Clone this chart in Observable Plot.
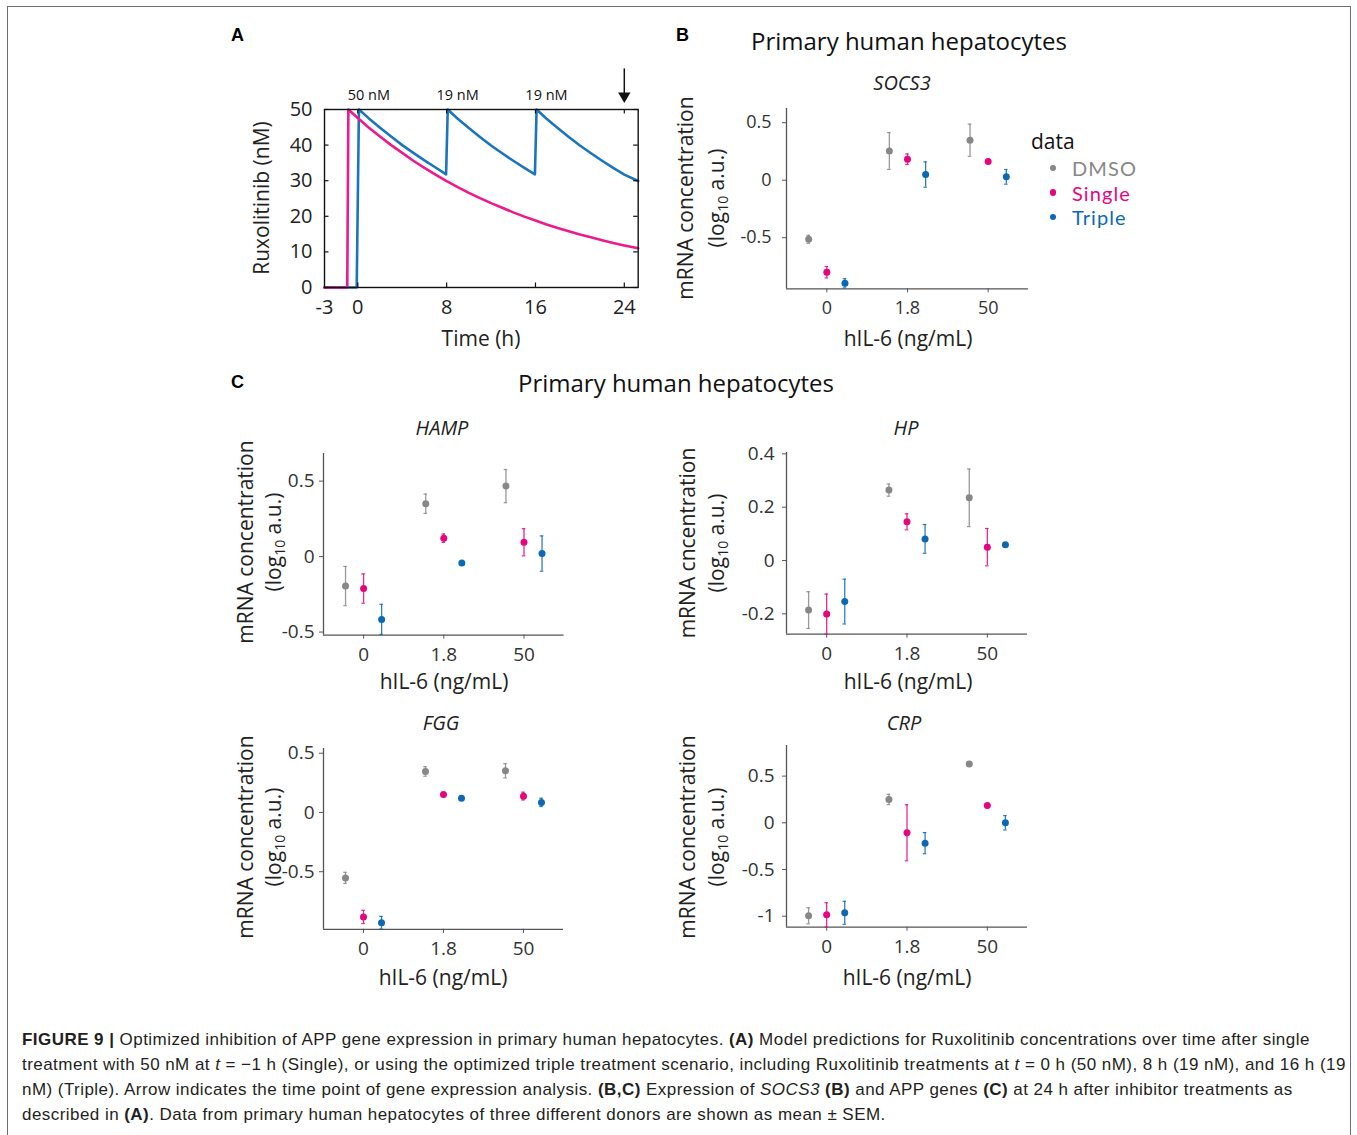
<!DOCTYPE html>
<html><head><meta charset="utf-8">
<script src="https://cdn.jsdelivr.net/npm/d3@7"></script>
<script src="https://cdn.jsdelivr.net/npm/@observablehq/plot@0.6"></script>
<style>
body{margin:0;background:#fff;}
#fig{position:relative;width:1357px;height:1135px;font-family:"Open Sans",sans-serif;overflow:hidden;background:#fff;}
.abs{position:absolute;white-space:nowrap;line-height:1;}
.c{transform:translate(-50%,-50%);}
.rot{transform:translate(-50%,-50%) rotate(-90deg);}
.plot{position:absolute;}
.lbl{font-weight:bold;font-size:18px;font-family:"Liberation Sans",Arial,sans-serif;}
#caption{position:absolute;left:22px;top:1027px;font-family:"Liberation Sans",Arial,sans-serif;font-size:17px;letter-spacing:0.45px;line-height:25px;color:#231f20;white-space:nowrap;}
</style></head>
<body><div id="fig"></div>
<script>
// ---------- Panel A data ----------
const singleTime = [-3,-0.95,-0.85,0,1,2,3,4,5,6,7,8,9,10,11,12,13,14,15,16,17,18,19,20,21,22,23,24,25.25];
const singleConc = [0,0,50,47.6,44.9,42.4,40.0,37.8,35.6,33.6,31.7,29.9,28.2,26.6,25.1,23.7,22.4,21.1,19.9,18.8,17.7,16.7,15.8,14.9,14.1,13.3,12.5,11.8,11.0];
const tripleTime = [-3,-0.1,0.1,1,2,3,4,5,6,7,7.95,8.1,9,10,11,12,13,14,15,15.95,16.1,17,18,19,20,21,22,23,24,25.25];
const tripleConc = [0,0,50,47.5,44.9,42.4,40.0,37.8,35.7,33.7,31.8,50,47.4,44.8,42.3,39.9,37.7,35.6,33.6,31.8,50,47.4,44.8,42.3,39.9,37.7,35.6,33.6,31.7,29.9];
const timeTicks = [-3,0,8,16,24];
const concTicks = [0,10,20,30,40,50];
const doseTimes = [0,8,16];
const doseLabels = ["50 nM","19 nM","19 nM"];
const analysisTime = 24;

// ---------- Panels B, C data (rows: DMSO, Single, Triple; cols: doses) ----------
const doses = ["0","1.8","50"];
const treatments = ["DMSO","Single","Triple"];
const colors = ["#878787","#e5057f","#0b68b5"];

const socs3Mean = [[-0.514,0.254,0.347],[-0.800,0.182,0.162],[-0.896,0.049,0.029]];
const socs3Sem  = [[0.035,0.160,0.140],[0.050,0.046,0.010],[0.040,0.110,0.064]];
const hampMean  = [[-0.195,0.350,0.467],[-0.212,0.122,0.095],[-0.416,-0.042,0.020]];
const hampSem   = [[0.130,0.064,0.110],[0.097,0.028,0.090],[0.100,0.004,0.117]];
const hpMean    = [[-0.186,0.264,0.235],[-0.201,0.145,0.050],[-0.154,0.081,0.059]];
const hpSem     = [[0.069,0.023,0.108],[0.075,0.030,0.070],[0.084,0.054,0.004]];
const fggMean   = [[-0.552,0.346,0.352],[-0.882,0.152,0.138],[-0.930,0.121,0.085]];
const fggSem    = [[0.047,0.040,0.060],[0.056,0.012,0.033],[0.053,0.015,0.035]];
const crpMean   = [[-0.996,0.250,0.629],[-0.986,-0.107,0.186],[-0.964,-0.218,0.000]];
const crpSem    = [[0.086,0.055,0.006],[0.130,0.300,0.006],[0.123,0.113,0.077]];

const fig = document.getElementById("fig");
function addDiv(html, cls, left, top, style = "") {
  const d = document.createElement("div");
  d.className = "abs " + cls;
  d.style.cssText = `left:${left}px;top:${top}px;${style}`;
  d.innerHTML = html;
  fig.appendChild(d);
  return d;
}
function addPlot(svg, left, top) {
  svg.classList.add("plot");
  svg.style.left = left + "px";
  svg.style.top = top + "px";
  fig.appendChild(svg);
}

// border
addDiv("", "", 7, 6, "width:1344px;height:1200px;border:1.6px solid #6e6e6e;box-sizing:border-box;");

// ---------- Panel A ----------
{
  const L = 324, R = 637.7, T = 109.3, B = 287.3;
  const mL = 104, mR = 22, mT = 59, mB = 73;
  const W = (R - L) + mL + mR, H = (B - T) + mT + mB;
  const pw = R - L, ph = B - T;
  const single = singleTime.map((t, i) => ({t, c: singleConc[i]}));
  const triple = tripleTime.map((t, i) => ({t, c: tripleConc[i]}));
  const svg = Plot.plot({
    width: W, height: H, marginLeft: mL, marginRight: mR, marginTop: mT, marginBottom: mB,
    x: {domain: [-3, 25.25]}, y: {domain: [0, 50]},
    style: {fontFamily: "Open Sans", fontSize: "20px", color: "#222", background: "transparent", overflow: "visible"},
    marks: [
      Plot.line(triple, {x: "t", y: "c", stroke: "#1b75bc", strokeWidth: 2.6}),
      Plot.line(single, {x: "t", y: "c", stroke: "#ec1a8a", strokeWidth: 2.6}),
      Plot.frame({stroke: "#111", strokeWidth: 1.4}),
      Plot.ruleX(timeTicks.slice(1), {insetTop: ph - 4.5, stroke: "#111", strokeWidth: 1.2}),
      Plot.ruleX(timeTicks.slice(1), {insetBottom: ph - 4.5, stroke: "#111", strokeWidth: 1.2}),
      Plot.ruleY(concTicks, {insetRight: pw - 4.5, stroke: "#111", strokeWidth: 1.2}),
      Plot.ruleY(concTicks, {insetLeft: pw - 4.5, stroke: "#111", strokeWidth: 1.2}),
      Plot.axisX({ticks: timeTicks, tickSize: 0, tickPadding: 12, label: null, tickFormat: d => String(d), fontSize: 20}),
      Plot.axisY({ticks: concTicks, tickSize: 0, tickPadding: 12, label: null, tickFormat: d => String(d), fontSize: 20}),
      Plot.text(doseTimes.map((t, i) => ({t, s: doseLabels[i]})), {x: d => d.t, y: 50, text: "s", dx: 11, dy: -14, fontSize: 14.5, fill: "#111"}),
      Plot.ruleX([analysisTime], {y1: 61.4, y2: 54.5, stroke: "#111", strokeWidth: 1.5}),
      Plot.dot([analysisTime], {x: d => d, y: 53.8, symbol: "triangle", rotate: 180, r: 4.6, fill: "#111", stroke: "none"})
    ]
  });
  addPlot(svg, L - mL, T - mT);
  addDiv("Ruxolitinib (nM)", "rot", 261, 198, "font-size:21px;color:#222;");
  addDiv("Time (h)", "c", 481, 338, "font-size:21px;color:#222;");
}

// ---------- Scatter panels ----------
const dodge = [-0.225, 0, 0.225];
function scatter({mean, sem, yDomain, yTicks, L, R, T, B, tickPad = 8, tickFont = 18}) {
  const rows = [];
  treatments.forEach((t, i) => doses.forEach((d, j) => rows.push({t, x: j + 1 + dodge[i], y: mean[i][j], e: sem[i][j]})));
  const mL = 80, mR = 6, mT = 6, mB = 50;
  const W = (R - L) + mL + mR, H = (B - T) + mT + mB;
  const capW = 0.022;
  const svg = Plot.plot({
    width: W, height: H, marginLeft: mL, marginRight: mR, marginTop: mT, marginBottom: mB,
    x: {domain: [0.5, 3.5]}, y: {domain: yDomain},
    color: {domain: treatments, range: colors},
    style: {fontFamily: "Open Sans", fontSize: tickFont + "px", color: "#333", background: "transparent", overflow: "visible"},
    marks: [
      Plot.ruleX([0.5], {stroke: "#555", strokeWidth: 1.3}),
      Plot.ruleY([yDomain[0]], {stroke: "#555", strokeWidth: 1.3}),
      Plot.axisX({ticks: [1, 2, 3], tickFormat: i => doses[i - 1], tickSize: 4, tickPadding: 8, label: null, stroke: "#555", fontSize: tickFont}),
      Plot.axisY({ticks: yTicks, tickFormat: d => String(d), tickSize: 4, tickPadding: tickPad, label: null, stroke: "#555", fontSize: tickFont}),
      Plot.ruleX(rows, {x: "x", y1: d => d.y - d.e, y2: d => d.y + d.e, stroke: "t", strokeWidth: 1.3, strokeOpacity: 0.85}),
      Plot.ruleY(rows, {x1: d => d.x - capW, x2: d => d.x + capW, y: d => d.y + d.e, stroke: "t", strokeWidth: 1.2, strokeOpacity: 0.85}),
      Plot.ruleY(rows, {x1: d => d.x - capW, x2: d => d.x + capW, y: d => d.y - d.e, stroke: "t", strokeWidth: 1.2, strokeOpacity: 0.85}),
      Plot.dot(rows, {x: "x", y: "y", fill: "t", r: 3.5, stroke: "none"})
    ]
  });
  addPlot(svg, L - mL, T - mT);
}
function yLabels(x1, x2, cy, word = "concentration") {
  addDiv(`mRNA ${word}`, "rot", x1, cy, "font-size:21px;color:#222;");
  addDiv(`(log<sub style="font-size:14px;vertical-align:-4px;line-height:0">10</sub> a.u.)`, "rot", x2, cy, "font-size:21px;color:#222;");
}
function title(txt, x, y) { addDiv(txt, "c", x, y, "font-size:20px;font-style:italic;color:#222;"); }
function xLabel(x, y) { addDiv("hIL-6 (ng/mL)", "c", x, y, "font-size:21px;color:#222;"); }

// Panel B
scatter({mean: socs3Mean, sem: socs3Sem, yDomain: [-0.945, 0.623], yTicks: [-0.5, 0, 0.5], L: 785.7, R: 1027.7, T: 108.3, B: 288.7, tickPad: 11, tickFont: 18});
addDiv("Primary human hepatocytes", "c", 909, 41, "font-size:24px;color:#111;");
title("SOCS3", 902, 83);
yLabels(685, 716, 198);
xLabel(908, 338);
// legend
addDiv("data", "", 1031, 131, "font-size:21px;color:#111;");
treatments.forEach((t, i) => {
  const y = [168, 192.5, 217][i];
  addDiv("", "", 1049.5, y - 3.3, `width:6.6px;height:6.6px;border-radius:50%;background:${colors[i]};`);
  addDiv(t, "", 1072, y - 10, `font-family:Lato,'Open Sans',sans-serif;font-size:20px;letter-spacing:1.1px;line-height:20px;color:${colors[i]};`);
});

// Panel C
addDiv("Primary human hepatocytes", "c", 676, 383, "font-size:24px;color:#111;");
scatter({mean: hampMean, sem: hampSem, yDomain: [-0.52, 0.683], yTicks: [-0.5, 0, 0.5], L: 322.7, R: 563.3, T: 452.7, B: 634.3, tickPad: 5, tickFont: 19});
title("HAMP", 442, 428); yLabels(245, 273, 542); xLabel(444, 681);

scatter({mean: hpMean, sem: hpSem, yDomain: [-0.276, 0.405], yTicks: [-0.2, 0, 0.2, 0.4], L: 786, R: 1027, T: 451.7, B: 633.3, tickPad: 8, tickFont: 19});
title("HP", 906, 428); yLabels(687, 716, 543, "cncentration"); xLabel(908, 681);

scatter({mean: fggMean, sem: fggSem, yDomain: [-0.986, 0.54], yTicks: [-0.5, 0, 0.5], L: 323.3, R: 563.3, T: 747.5, B: 928.3, tickPad: 5, tickFont: 19});
title("FGG", 441, 723); yLabels(245, 273, 837); xLabel(443, 977);

scatter({mean: crpMean, sem: crpSem, yDomain: [-1.118, 0.828], yTicks: [-1, -0.5, 0, 0.5], L: 786, R: 1027, T: 745, B: 926.7, tickPad: 8, tickFont: 19});
title("CRP", 904, 723); yLabels(687, 716, 837); xLabel(907, 977);

// panel letters
addDiv("A", "lbl", 231, 26);
addDiv("B", "lbl", 676, 26);
addDiv("C", "lbl", 231, 373);

// caption
const cap = document.createElement("div");
cap.id = "caption";
cap.innerHTML =
  `<b>FIGURE 9 |</b> Optimized inhibition of APP gene expression in primary human hepatocytes. <b>(A)</b> Model predictions for Ruxolitinib concentrations over time after single<br>` +
  `treatment with 50 nM at <i>t</i> = −1 h (Single), or using the optimized triple treatment scenario, including Ruxolitinib treatments at <i>t</i> = 0 h (50 nM), 8 h (19 nM), and 16 h (19<br>` +
  `nM) (Triple). Arrow indicates the time point of gene expression analysis. <b>(B,C)</b> Expression of <i>SOCS3</i> <b>(B)</b> and APP genes <b>(C)</b> at 24 h after inhibitor treatments as<br>` +
  `described in <b>(A)</b>. Data from primary human hepatocytes of three different donors are shown as mean ± SEM.`;
fig.appendChild(cap);
</script>
</body></html>
